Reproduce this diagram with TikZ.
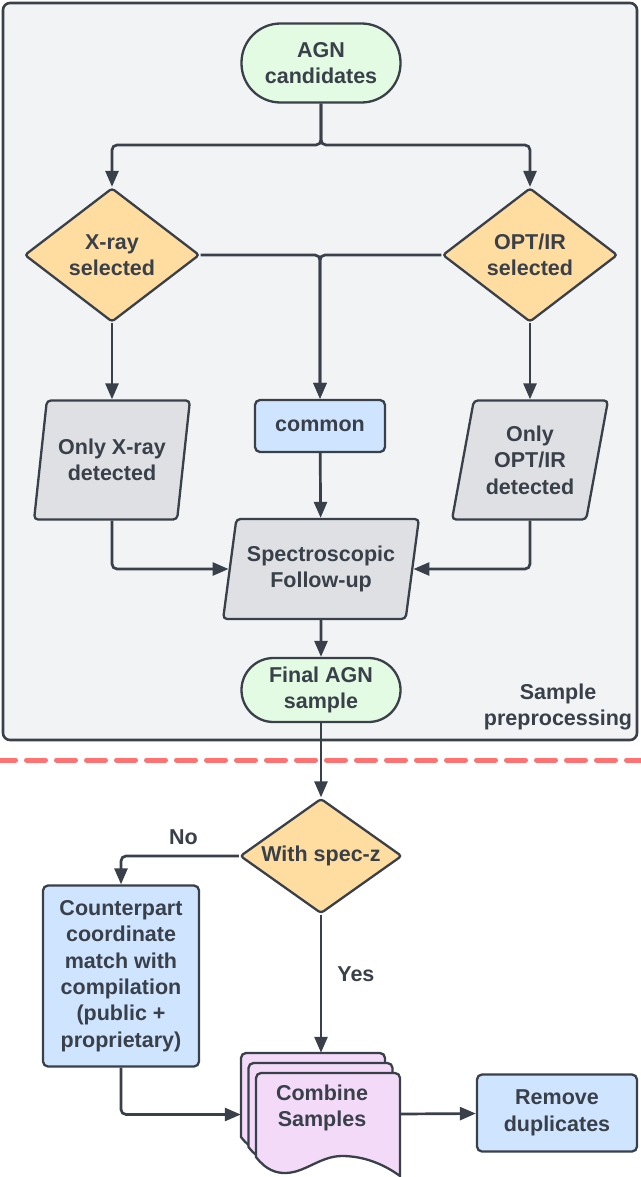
\documentclass[tikz,border=0pt]{standalone}
\usepackage{fontspec}
\setmainfont{Liberation Sans}
\usetikzlibrary{shapes.geometric,arrows.meta,calc}
\definecolor{ink}{HTML}{394049}
\definecolor{termgreen}{HTML}{E3FAE3}
\definecolor{decorange}{HTML}{FFDCA0}
\definecolor{procblue}{HTML}{CFE4FF}
\definecolor{iogray}{HTML}{DEE0E4}
\definecolor{docpink}{HTML}{F3DAF8}
\definecolor{framebg}{HTML}{F2F3F5}
\definecolor{dashred}{HTML}{FF7272}
\tikzset{
  base/.style={draw=ink, line width=2.3pt, text=ink, align=center, inner sep=0pt},
  term/.style={base, rectangle, fill=termgreen},
  decision/.style={base, diamond, fill=decorange, rounded corners=3pt},
  procbox/.style={base, rectangle, fill=procblue, rounded corners=5pt},
  iobox/.style={base, trapezium, trapezium left angle=76, trapezium right angle=104,
    trapezium stretches=true, fill=iogray, rounded corners=4pt},
  conn/.style={draw=ink, line width=2.7pt, rounded corners=5pt,
    -{Triangle[length=16pt,width=13pt]}},
  lbl/.style={text=ink, align=center, inner sep=0pt},
  docpage/.pic={
    \draw[draw=ink, line width=2.3pt, fill=docpink]
      (0,84) [rounded corners=5pt] -- (0,0) -- (144,0) -- (144,40) [sharp corners] -- (144,103)
      .. controls (129,92) and (109,83) .. (86,83)
      .. controls (64,83) and (49,100) .. (29,100)
      .. controls (20,100) and (10,97) .. (0,84) -- cycle;
  }
}
\begin{document}
\begin{tikzpicture}[x=1pt,y=-1pt, font=\fontsize{21.5}{26.5}\selectfont\bfseries]
\useasboundingbox (0,0) rectangle (640,1177);
\fill[white] (0,0) rectangle (640,1177);
% frame
\draw[draw=ink, line width=2.6pt, fill=framebg, rounded corners=7pt] (3,3) rectangle (637,740);
% nodes upper part
\node[term, minimum width=159pt, minimum height=79pt, rounded corners=39pt] (agn) at (321,63) {AGN\\candidates};
\node[decision, aspect=1.31, minimum width=175pt, minimum height=134pt] (xray) at (112,255) {X-ray\\selected};
\node[decision, aspect=1.31, minimum width=175pt, minimum height=134pt] (opt) at (530,255) {OPT/IR\\selected};
\node[iobox, minimum width=156pt, minimum height=119pt] (ox) at (112,460) {Only X-ray\\detected};
\node[procbox, minimum width=130pt, minimum height=52pt] (common) at (320,426) {common};
\node[iobox, minimum width=156pt, minimum height=119pt] (oo) at (530,460) {Only\\OPT/IR\\detected};
\node[iobox, minimum width=196pt, minimum height=100pt] (spec) at (321,569) {Spectroscopic\\Follow-up};
\node[term, minimum width=159pt, minimum height=64pt, rounded corners=32pt] (final) at (321,690) {Final AGN\\sample};
\node[lbl] (prep) at (558,707) {Sample\\preprocessing};
% dashed separator
\draw[dashred, line width=5pt, line cap=round, dash pattern=on 19pt off 11pt] (-3.5,760) -- (650,760);
% lower part
\node[decision, aspect=1.41, minimum width=162pt, minimum height=115pt] (specz) at (321,856) {With spec-z};
\node[procbox, minimum width=156pt, minimum height=181pt, font=\fontsize{21.5}{26.4}\selectfont\bfseries] (cp) at (121,976)
  {Counterpart\\coordinate\\match with\\compilation\\(public +\\proprietary)};
\node[rectangle, minimum width=160pt, minimum height=123pt, inner sep=0pt] (comb) at (321,1114.5) {};
\pic at (241,1053) {docpage};
\pic at (248.5,1063) {docpage};
\pic at (256,1073) {docpage};
\node[lbl] (combtext) at (322,1108) {Combine\\Samples};
\node[procbox, minimum width=160pt, minimum height=77pt] (rem) at (557,1113) {Remove\\duplicates};
% connectors
\coordinate (split) at (321,145);
\draw[conn] (agn.south) -- (split) -| (xray.north);
\draw[conn] (agn.south) -- (split) -| (opt.north);
\draw[conn] (xray.east) -| (common.north);
\draw[conn] (opt.west) -| (common.north);
\draw[conn] (xray) -- (ox);
\draw[conn] (opt) -- (oo);
\draw[conn] (common) -- (spec);
\draw[conn] (ox) |- (spec);
\draw[conn] (oo) |- (spec);
\draw[conn] (spec) -- (final);
\draw[conn] (final) -- (specz);
\draw[conn] (specz) -| node[lbl, pos=0.235, above=10pt] (nolbl) {No} (cp);
\draw[conn] (specz) -- node[lbl, pos=0.43, right=15pt] (yeslbl) {Yes} (comb);
\draw[conn] (cp) |- (comb);
\draw[conn] (comb) -- (rem);
\end{tikzpicture}
\end{document}
